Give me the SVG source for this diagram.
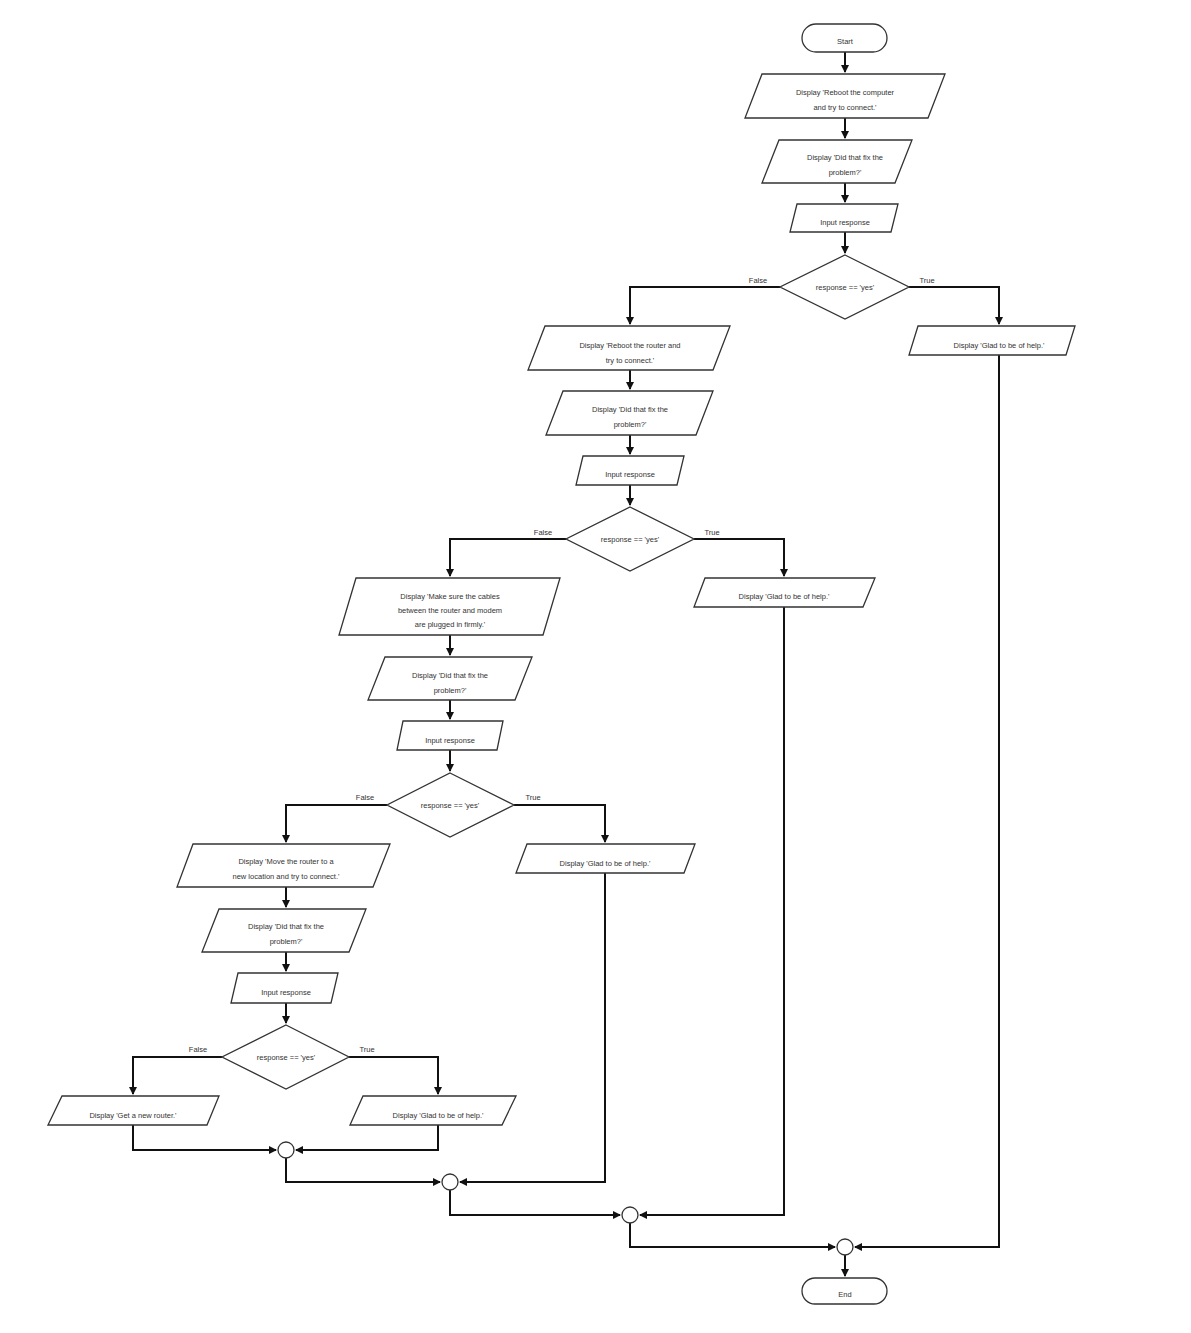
<svg xmlns="http://www.w3.org/2000/svg" width="1191" height="1333" viewBox="0 0 1191 1333">
<style>
.s{fill:#fff;stroke:#333;stroke-width:1.3}
.t{font-family:"Liberation Sans",Arial,sans-serif;font-size:7.5px;fill:#333;text-anchor:middle}
.l{font-family:"Liberation Sans",Arial,sans-serif;font-size:7.5px;fill:#333;text-anchor:middle}
.c{fill:none;stroke:#111;stroke-width:2}
</style>
<defs><marker id="a" markerWidth="8" markerHeight="8" refX="7" refY="4" orient="auto" markerUnits="userSpaceOnUse"><path d="M0,0L8,4L0,8z" fill="#111"/></marker></defs>
<rect width="1191" height="1333" fill="#fff"/>
<g id="connectors">
<path class="c" d="M845,52V72" marker-end="url(#a)"/>
<path class="c" d="M845,118V138" marker-end="url(#a)"/>
<path class="c" d="M845,183V202" marker-end="url(#a)"/>
<path class="c" d="M845,232V253" marker-end="url(#a)"/>
<path class="c" d="M780,287H630V324" marker-end="url(#a)"/>
<path class="c" d="M909,287H999V324" marker-end="url(#a)"/>
<path class="c" d="M999,355V1247H855" marker-end="url(#a)"/>
<path class="c" d="M845,1255V1276" marker-end="url(#a)"/>
<path class="c" d="M630,370V389" marker-end="url(#a)"/>
<path class="c" d="M630,435V454" marker-end="url(#a)"/>
<path class="c" d="M630,485V505" marker-end="url(#a)"/>
<path class="c" d="M566,539H450V576" marker-end="url(#a)"/>
<path class="c" d="M694,539H784V576" marker-end="url(#a)"/>
<path class="c" d="M784,607V1215H640" marker-end="url(#a)"/>
<path class="c" d="M630,1223V1247H835" marker-end="url(#a)"/>
<path class="c" d="M450,635V655" marker-end="url(#a)"/>
<path class="c" d="M450,700V719" marker-end="url(#a)"/>
<path class="c" d="M450,750V771" marker-end="url(#a)"/>
<path class="c" d="M387,805H286V842" marker-end="url(#a)"/>
<path class="c" d="M514,805H605V842" marker-end="url(#a)"/>
<path class="c" d="M605,873V1182H460" marker-end="url(#a)"/>
<path class="c" d="M450,1190V1215H620" marker-end="url(#a)"/>
<path class="c" d="M286,887V907" marker-end="url(#a)"/>
<path class="c" d="M286,952V971" marker-end="url(#a)"/>
<path class="c" d="M286,1003V1023" marker-end="url(#a)"/>
<path class="c" d="M222,1057H133V1094" marker-end="url(#a)"/>
<path class="c" d="M349,1057H438V1094" marker-end="url(#a)"/>
<path class="c" d="M133,1125V1150H276" marker-end="url(#a)"/>
<path class="c" d="M438,1125V1150H296" marker-end="url(#a)"/>
<path class="c" d="M286,1158V1182H440" marker-end="url(#a)"/>
<text class="l" x="758" y="283">False</text><text class="l" x="927" y="283">True</text>
<text class="l" x="543" y="535">False</text><text class="l" x="712" y="535">True</text>
<text class="l" x="365" y="800">False</text><text class="l" x="533" y="800">True</text>
<text class="l" x="198" y="1052">False</text><text class="l" x="367" y="1052">True</text>
</g>
<g id="start"><rect class="s" x="802" y="24" width="85" height="28" rx="14"/><text class="t" x="845" y="44">Start</text></g>
<g id="p1"><path class="s" d="M762,74H945L928,118H745z"/><text class="t" x="845" y="95">Display 'Reboot the computer</text><text class="t" x="845" y="110">and try to connect.'</text></g>
<g id="p2"><path class="s" d="M779,140H912L895,183H762z"/><text class="t" x="845" y="160">Display 'Did that fix the</text><text class="t" x="845" y="175">problem?'</text></g>
<g id="i1"><path class="s" d="M797,204H898L891,232H790z"/><text class="t" x="845" y="225">Input response</text></g>
<g id="d1"><path class="s" d="M845,255L909,287L845,319L780,287z"/><text class="t" x="845" y="290">response == 'yes'</text></g>
<g id="g1"><path class="s" d="M918,326H1075L1066,355H909z"/><text class="t" x="999" y="348">Display 'Glad to be of help.'</text></g>
<g id="p3"><path class="s" d="M545,326H730L713,370H528z"/><text class="t" x="630" y="348">Display 'Reboot the router and</text><text class="t" x="630" y="363">try to connect.'</text></g>
<g id="p4"><path class="s" d="M563,391H713L696,435H546z"/><text class="t" x="630" y="412">Display 'Did that fix the</text><text class="t" x="630" y="427">problem?'</text></g>
<g id="i2"><path class="s" d="M583,456H684L677,485H576z"/><text class="t" x="630" y="477">Input response</text></g>
<g id="d2"><path class="s" d="M630,507L694,539L630,571L566,539z"/><text class="t" x="630" y="542">response == 'yes'</text></g>
<g id="g2"><path class="s" d="M705,578H875L863,607H694z"/><text class="t" x="784" y="599">Display 'Glad to be of help.'</text></g>
<g id="p5"><path class="s" d="M356,578H560L543,635H339z"/><text class="t" x="450" y="599">Display 'Make sure the cables</text><text class="t" x="450" y="613">between the router and modem</text><text class="t" x="450" y="627">are plugged in firmly.'</text></g>
<g id="p6"><path class="s" d="M385,657H532L515,700H368z"/><text class="t" x="450" y="678">Display 'Did that fix the</text><text class="t" x="450" y="693">problem?'</text></g>
<g id="i3"><path class="s" d="M403,721H503L497,750H397z"/><text class="t" x="450" y="743">Input response</text></g>
<g id="d3"><path class="s" d="M450,773L514,805L450,837L387,805z"/><text class="t" x="450" y="808">response == 'yes'</text></g>
<g id="g3"><path class="s" d="M527,844H695L684,873H516z"/><text class="t" x="605" y="866">Display 'Glad to be of help.'</text></g>
<g id="p7"><path class="s" d="M193,844H390L373,887H177z"/><text class="t" x="286" y="864">Display 'Move the router to a</text><text class="t" x="286" y="879">new location and try to connect.'</text></g>
<g id="p8"><path class="s" d="M219,909H366L349,952H202z"/><text class="t" x="286" y="929">Display 'Did that fix the</text><text class="t" x="286" y="944">problem?'</text></g>
<g id="i4"><path class="s" d="M238,973H338L331,1003H231z"/><text class="t" x="286" y="995">Input response</text></g>
<g id="d4"><path class="s" d="M286,1025L349,1057L286,1089L222,1057z"/><text class="t" x="286" y="1060">response == 'yes'</text></g>
<g id="g5"><path class="s" d="M62,1096H219L207,1125H48z"/><text class="t" x="133" y="1118">Display 'Get a new router.'</text></g>
<g id="g4"><path class="s" d="M363,1096H516L502,1125H350z"/><text class="t" x="438" y="1118">Display 'Glad to be of help.'</text></g>
<g id="m1"><circle class="s" cx="286" cy="1150" r="8"/></g>
<g id="m2"><circle class="s" cx="450" cy="1182" r="8"/></g>
<g id="m3"><circle class="s" cx="630" cy="1215" r="8"/></g>
<g id="m4"><circle class="s" cx="845" cy="1247" r="8"/></g>
<g id="end"><rect class="s" x="802" y="1278" width="85" height="26" rx="13"/><text class="t" x="845" y="1297">End</text></g>
</svg>
